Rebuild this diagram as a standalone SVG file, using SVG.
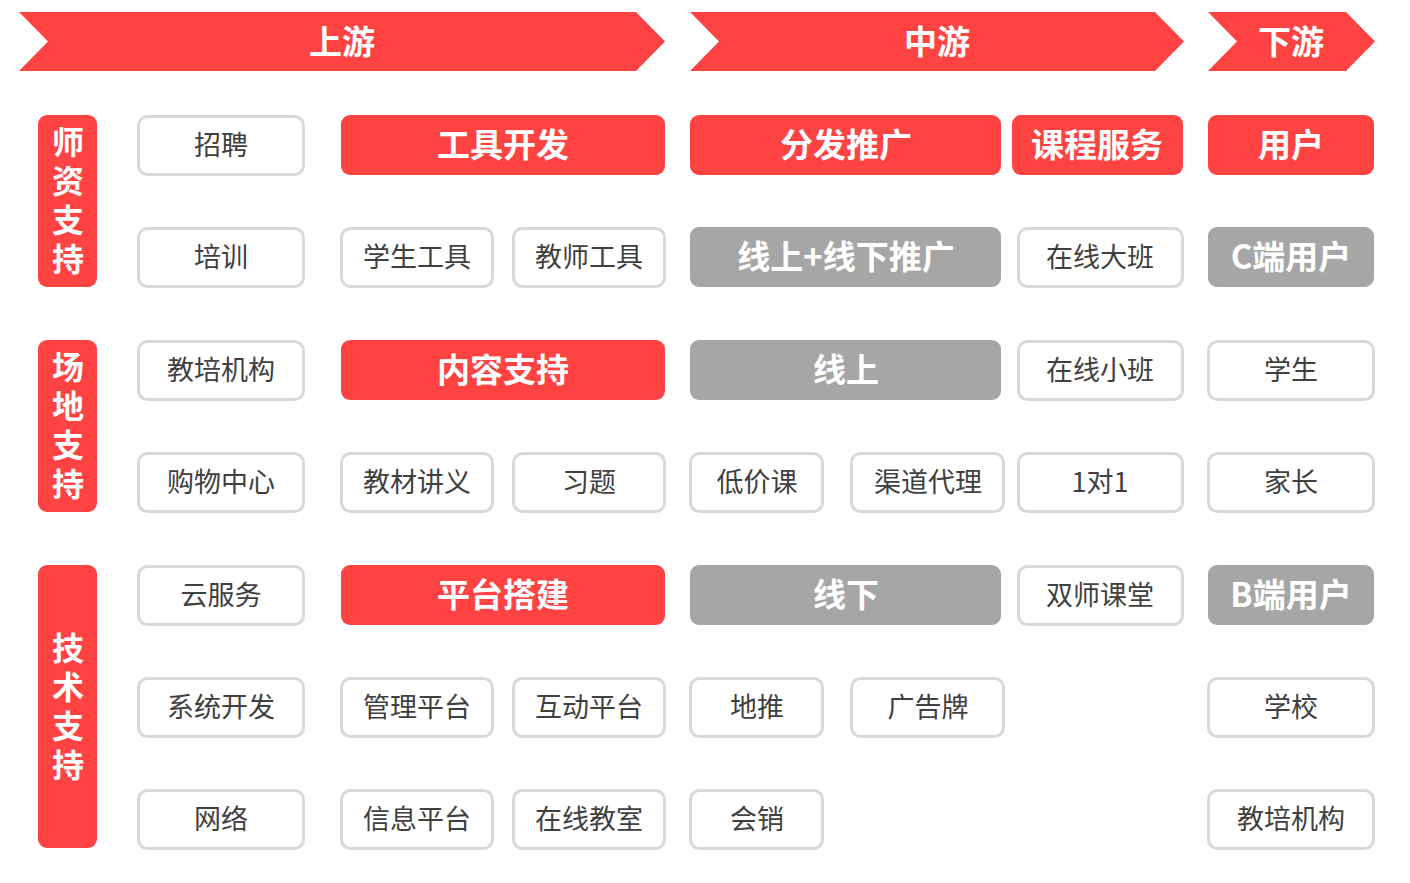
<svg xmlns="http://www.w3.org/2000/svg" width="1410" height="883" viewBox="0 0 1410 883">
<style>
.r{fill:#FF4343}
.g{fill:#A6A6A6}
.w{fill:#FFFFFF;stroke:#D9D9D9;stroke-width:3}
.tw{font-family:"Noto Sans CJK SC","Noto Sans",sans-serif;font-weight:bold;font-size:33px;fill:#FFFFFF;text-anchor:middle;dominant-baseline:central}
.td{font-family:"Noto Sans CJK SC","Noto Sans",sans-serif;font-size:27px;fill:#404040;text-anchor:middle;dominant-baseline:central}
.tv{font-family:"Noto Sans CJK SC","Noto Sans",sans-serif;font-weight:bold;font-size:32px;fill:#FFFFFF;writing-mode:vertical-rl;letter-spacing:7px;text-anchor:start}
</style>
<rect width="1410" height="883" fill="#FFFFFF"/>
<g id="banners">
<g id="b-up"><polygon class="r" points="19,12 636,12 665,41.5 636,71 19,71 48,41.5"/><text class="tw" x="342" y="40">上游</text></g>
<g id="b-mid"><polygon class="r" points="690,12 1155,12 1184,41.5 1155,71 690,71 719,41.5"/><text class="tw" x="937" y="40">中游</text></g>
<g id="b-down"><polygon class="r" points="1208,12 1346,12 1375,41.5 1346,71 1208,71 1237,41.5"/><text class="tw" x="1291" y="40">下游</text></g>
</g>
<g id="side">
<g id="s1"><rect class="r" x="38" y="115" width="59" height="172" rx="9"/><text class="tv" x="68" y="126">师资支持</text></g>
<g id="s2"><rect class="r" x="38" y="340" width="59" height="172" rx="9"/><text class="tv" x="68" y="351">场地支持</text></g>
<g id="s3"><rect class="r" x="38" y="565" width="59" height="283" rx="9"/><text class="tv" x="68" y="632">技术支持</text></g>
</g>
<g id="nodes">
<!-- row 1 -->
<g id="n11"><rect class="w" x="138.5" y="116.5" width="165" height="58" rx="9"/><text class="td" x="221" y="143">招聘</text></g>
<g id="n12"><rect class="r" x="341" y="115" width="324" height="60" rx="9"/><text class="tw" x="503" y="143">工具开发</text></g>
<g id="n13"><rect class="r" x="690" y="115" width="311" height="60" rx="9"/><text class="tw" x="846" y="143">分发推广</text></g>
<g id="n14"><rect class="r" x="1012" y="115" width="171" height="60" rx="9"/><text class="tw" x="1097" y="143">课程服务</text></g>
<g id="n15"><rect class="r" x="1208" y="115" width="166" height="60" rx="9"/><text class="tw" x="1291" y="143">用户</text></g>
<!-- row 2 -->
<g id="n21"><rect class="w" x="138.5" y="228.5" width="165" height="58" rx="9"/><text class="td" x="221" y="255">培训</text></g>
<g id="n22"><rect class="w" x="341.5" y="228.5" width="151" height="58" rx="9"/><text class="td" x="417" y="255">学生工具</text></g>
<g id="n23"><rect class="w" x="513.5" y="228.5" width="151" height="58" rx="9"/><text class="td" x="589" y="255">教师工具</text></g>
<g id="n24"><rect class="g" x="690" y="227" width="311" height="60" rx="9"/><text class="tw" x="846" y="255">线上+线下推广</text></g>
<g id="n25"><rect class="w" x="1018.5" y="228.5" width="164" height="58" rx="9"/><text class="td" x="1100" y="255">在线大班</text></g>
<g id="n26"><rect class="g" x="1208" y="227" width="166" height="60" rx="9"/><text class="tw" x="1291" y="255">C端用户</text></g>
<!-- row 3 -->
<g id="n31"><rect class="w" x="138.5" y="341.5" width="165" height="58" rx="9"/><text class="td" x="221" y="368">教培机构</text></g>
<g id="n32"><rect class="r" x="341" y="340" width="324" height="60" rx="9"/><text class="tw" x="503" y="368">内容支持</text></g>
<g id="n33"><rect class="g" x="690" y="340" width="311" height="60" rx="9"/><text class="tw" x="846" y="368">线上</text></g>
<g id="n34"><rect class="w" x="1018.5" y="341.5" width="164" height="58" rx="9"/><text class="td" x="1100" y="368">在线小班</text></g>
<g id="n35"><rect class="w" x="1208.5" y="341.5" width="165" height="58" rx="9"/><text class="td" x="1291" y="368">学生</text></g>
<!-- row 4 -->
<g id="n41"><rect class="w" x="138.5" y="453.5" width="165" height="58" rx="9"/><text class="td" x="221" y="480">购物中心</text></g>
<g id="n42"><rect class="w" x="341.5" y="453.5" width="151" height="58" rx="9"/><text class="td" x="417" y="480">教材讲义</text></g>
<g id="n43"><rect class="w" x="513.5" y="453.5" width="151" height="58" rx="9"/><text class="td" x="589" y="480">习题</text></g>
<g id="n44"><rect class="w" x="690.5" y="453.5" width="132" height="58" rx="9"/><text class="td" x="757" y="480">低价课</text></g>
<g id="n45"><rect class="w" x="851.5" y="453.5" width="152" height="58" rx="9"/><text class="td" x="928" y="480">渠道代理</text></g>
<g id="n46"><rect class="w" x="1018.5" y="453.5" width="164" height="58" rx="9"/><text class="td" x="1100" y="480">1对1</text></g>
<g id="n47"><rect class="w" x="1208.5" y="453.5" width="165" height="58" rx="9"/><text class="td" x="1291" y="480">家长</text></g>
<!-- row 5 -->
<g id="n51"><rect class="w" x="138.5" y="566.5" width="165" height="58" rx="9"/><text class="td" x="221" y="593">云服务</text></g>
<g id="n52"><rect class="r" x="341" y="565" width="324" height="60" rx="9"/><text class="tw" x="503" y="593">平台搭建</text></g>
<g id="n53"><rect class="g" x="690" y="565" width="311" height="60" rx="9"/><text class="tw" x="846" y="593">线下</text></g>
<g id="n54"><rect class="w" x="1018.5" y="566.5" width="164" height="58" rx="9"/><text class="td" x="1100" y="593">双师课堂</text></g>
<g id="n55"><rect class="g" x="1208" y="565" width="166" height="60" rx="9"/><text class="tw" x="1291" y="593">B端用户</text></g>
<!-- row 6 -->
<g id="n61"><rect class="w" x="138.5" y="678.5" width="165" height="58" rx="9"/><text class="td" x="221" y="705">系统开发</text></g>
<g id="n62"><rect class="w" x="341.5" y="678.5" width="151" height="58" rx="9"/><text class="td" x="417" y="705">管理平台</text></g>
<g id="n63"><rect class="w" x="513.5" y="678.5" width="151" height="58" rx="9"/><text class="td" x="589" y="705">互动平台</text></g>
<g id="n64"><rect class="w" x="690.5" y="678.5" width="132" height="58" rx="9"/><text class="td" x="757" y="705">地推</text></g>
<g id="n65"><rect class="w" x="851.5" y="678.5" width="152" height="58" rx="9"/><text class="td" x="928" y="705">广告牌</text></g>
<g id="n66"><rect class="w" x="1208.5" y="678.5" width="165" height="58" rx="9"/><text class="td" x="1291" y="705">学校</text></g>
<!-- row 7 -->
<g id="n71"><rect class="w" x="138.5" y="790.5" width="165" height="58" rx="9"/><text class="td" x="221" y="817">网络</text></g>
<g id="n72"><rect class="w" x="341.5" y="790.5" width="151" height="58" rx="9"/><text class="td" x="417" y="817">信息平台</text></g>
<g id="n73"><rect class="w" x="513.5" y="790.5" width="151" height="58" rx="9"/><text class="td" x="589" y="817">在线教室</text></g>
<g id="n74"><rect class="w" x="690.5" y="790.5" width="132" height="58" rx="9"/><text class="td" x="757" y="817">会销</text></g>
<g id="n75"><rect class="w" x="1208.5" y="790.5" width="165" height="58" rx="9"/><text class="td" x="1291" y="817">教培机构</text></g>
</g>
<g id="connectors"></g>
</svg>
